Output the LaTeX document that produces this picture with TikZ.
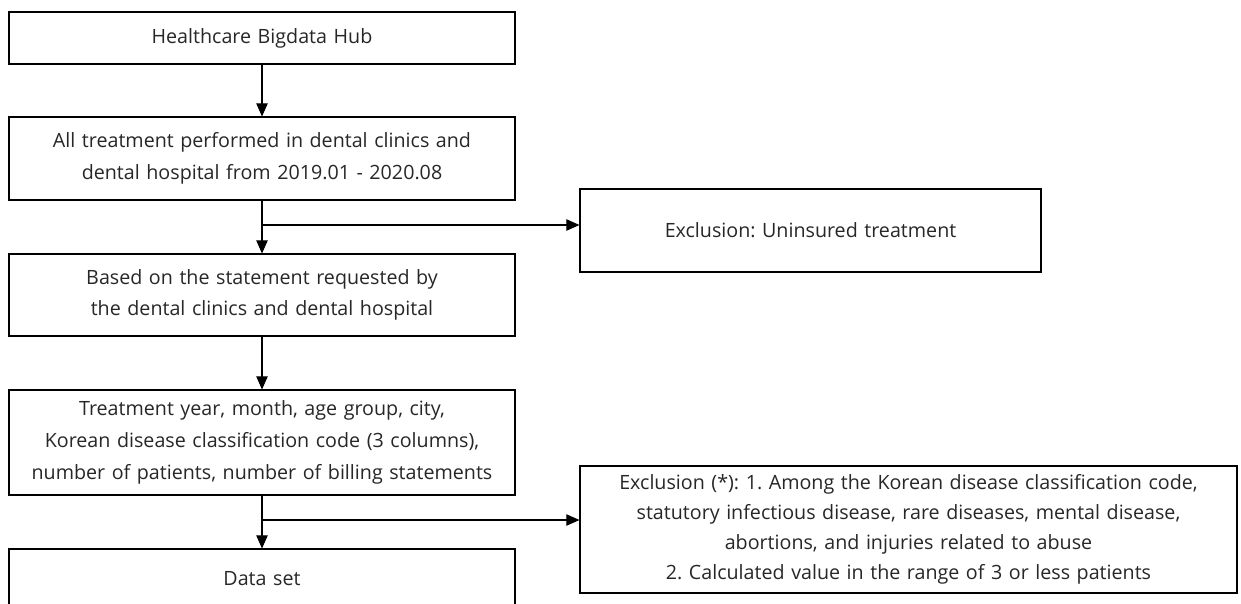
\documentclass[tikz,border=0pt]{standalone}
\usepackage{fontspec}
\setmainfont{Open Sans}
\frenchspacing
\usetikzlibrary{arrows.meta}
\definecolor{inkgray}{RGB}{40,38,39}
\tikzset{
  box/.style={draw=black, line width=0.6pt, inner sep=0pt, align=center,
    text=inkgray, font=\fontsize{11.2}{18}\selectfont},
  arr/.style={-{Triangle[length=7.5pt,width=6.5pt]}, line width=0.6pt, black}
}
\begin{document}
\begin{tikzpicture}[x=0.02cm, y=-0.02cm]
    % 画布范围
    \useasboundingbox (0,0) rectangle (1241,603);

    % 左侧主流程
    \node[box, minimum width=506*0.02cm, text width=490*0.02cm, minimum height=52*0.02cm] (hub) at (262,38) {Healthcare Bigdata Hub};
    \node[box, minimum width=506*0.02cm, text width=490*0.02cm, minimum height=83*0.02cm] (all) at (262,158.5) {All treatment performed in dental clinics and\\dental hospital from 2019.01 - 2020.08};
    \node[box, minimum width=506*0.02cm, text width=490*0.02cm, minimum height=82*0.02cm] (stmt) at (262,295) {Based on the statement requested by\\the dental clinics and dental hospital};
    \node[box, minimum width=506*0.02cm, text width=490*0.02cm, minimum height=105*0.02cm] (vars) at (262,442.5) {Treatment year, month, age group, city,\\Korean disease classification code (3 columns),\\number of patients, number of billing statements};
    \node[box, minimum width=506*0.02cm, text width=490*0.02cm, minimum height=60*0.02cm] (dset) at (262,579) {Data set};

    % 右侧排除条件
    \node[box, minimum width=461*0.02cm, text width=445*0.02cm, minimum height=83*0.02cm] (exc1) at (810.5,230.5) {Exclusion: Uninsured treatment};
    \node[box, minimum width=657*0.02cm, text width=645*0.02cm, minimum height=127*0.02cm, font=\fontsize{11.2}{17}\selectfont] (exc2) at (908.5,529.5) {Exclusion (*): 1. Among the Korean disease classification code,\\statutory infectious disease, rare diseases, mental disease,\\abortions, and injuries related to abuse\\2. Calculated value in the range of 3 or less patients};

    % 分支点
    \coordinate (b1) at (262,225);
    \coordinate (b2) at (262,520);

    % 连线
    \draw[arr] (hub) -- (all);
    \draw[arr] (all) -- (stmt);
    \draw[arr] (stmt) -- (vars);
    \draw[arr] (vars) -- (dset);
    \draw[arr] (b1) -- (b1 -| exc1.west);
    \draw[arr] (b2) -- (b2 -| exc2.west);
\end{tikzpicture}
\end{document}
